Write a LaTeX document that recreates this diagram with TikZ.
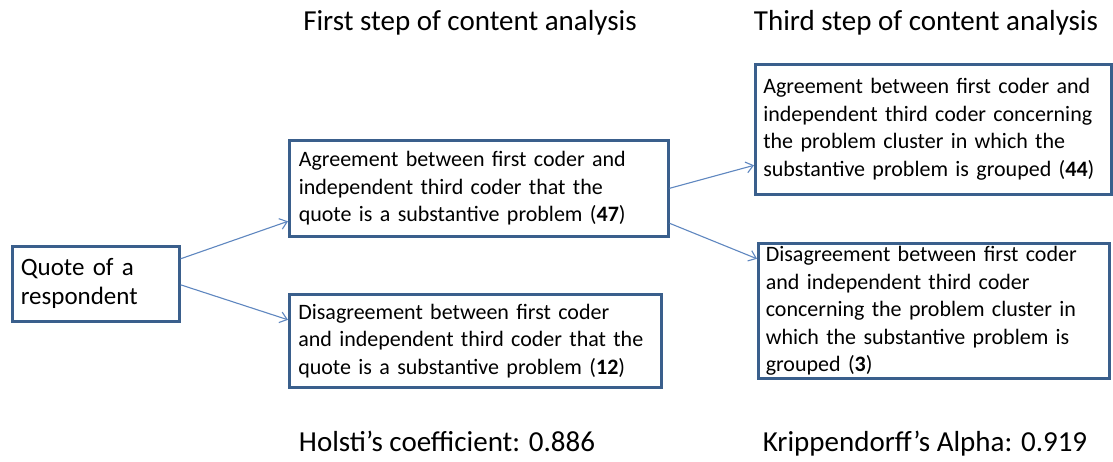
\documentclass[tikz,border=0pt]{standalone}
\usepackage{fontspec}
\setmainfont{Carlito}
\usetikzlibrary{arrows.meta}
\definecolor{boxblue}{HTML}{3A5F8C}
\definecolor{arrblue}{HTML}{5F87C0}
\tikzset{
  box/.style={draw=boxblue, line width=2.6pt, rectangle, anchor=north west, align=left,
    inner sep=0pt, font=\fontsize{22}{27.5}\selectfont, text=black},
  conn/.style={draw=arrblue, line width=1.1pt, -{Straight Barb[length=7pt,width=11pt,line width=1.1pt]}},
  title/.style={font=\fontsize{29}{34}\selectfont, text=black, anchor=base}
}
\begin{document}
\begin{tikzpicture}[x=1pt,y=-1pt]
\useasboundingbox[fill=white] (0,0) rectangle (1113,462);
\node[box, minimum width=167pt, minimum height=75pt, text width=150pt,
  font=\fontsize{25}{29}\selectfont] (q) at (11,245) {Quote of a\\respondent};
\node[box, minimum width=379pt, minimum height=96pt, text width=360pt] (a1) at (288,139)
  {Agreement between first coder and\\independent third coder that the\\quote is a substantive problem (\textbf{47})};
\node[box, minimum width=372pt, minimum height=93pt, text width=354pt] (d1) at (288,293)
  {Disagreement between first coder\\and independent third coder that the\\quote is a substantive problem (\textbf{12})};
\node[box, minimum width=356pt, minimum height=130pt, text width=340pt] (a3) at (754,63)
  {Agreement between first coder and\\independent third coder concerning\\the problem cluster in which the\\substantive problem is grouped (\textbf{44})};
\node[box, minimum width=351pt, minimum height=135pt, text width=336pt] (d3) at (757,242)
  {Disagreement between first coder\\and independent third coder\\concerning the problem cluster in\\which the substantive problem is\\grouped (\textbf{3})};
\node[title] (t1) at (470,31) {First step of content analysis};
\node[title] (t3) at (926,31) {Third step of content analysis};
\node[title] (h) at (447,451) {Holsti’s coefficient: 0.886};
\node[title] (k) at (925,451) {Krippendorff’s Alpha: 0.919};
\draw[conn] ([yshift=25pt]q.east) -- ([yshift=-33pt]a1.west);
\draw[conn] ([yshift=-1pt]q.east) -- ([yshift=21pt]d1.west);
\draw[conn] (a1.east) -- ([yshift=-36pt]a3.west);
\draw[conn] ([yshift=-35pt]a1.east) -- ([yshift=52pt]d3.west);
\end{tikzpicture}
\end{document}
